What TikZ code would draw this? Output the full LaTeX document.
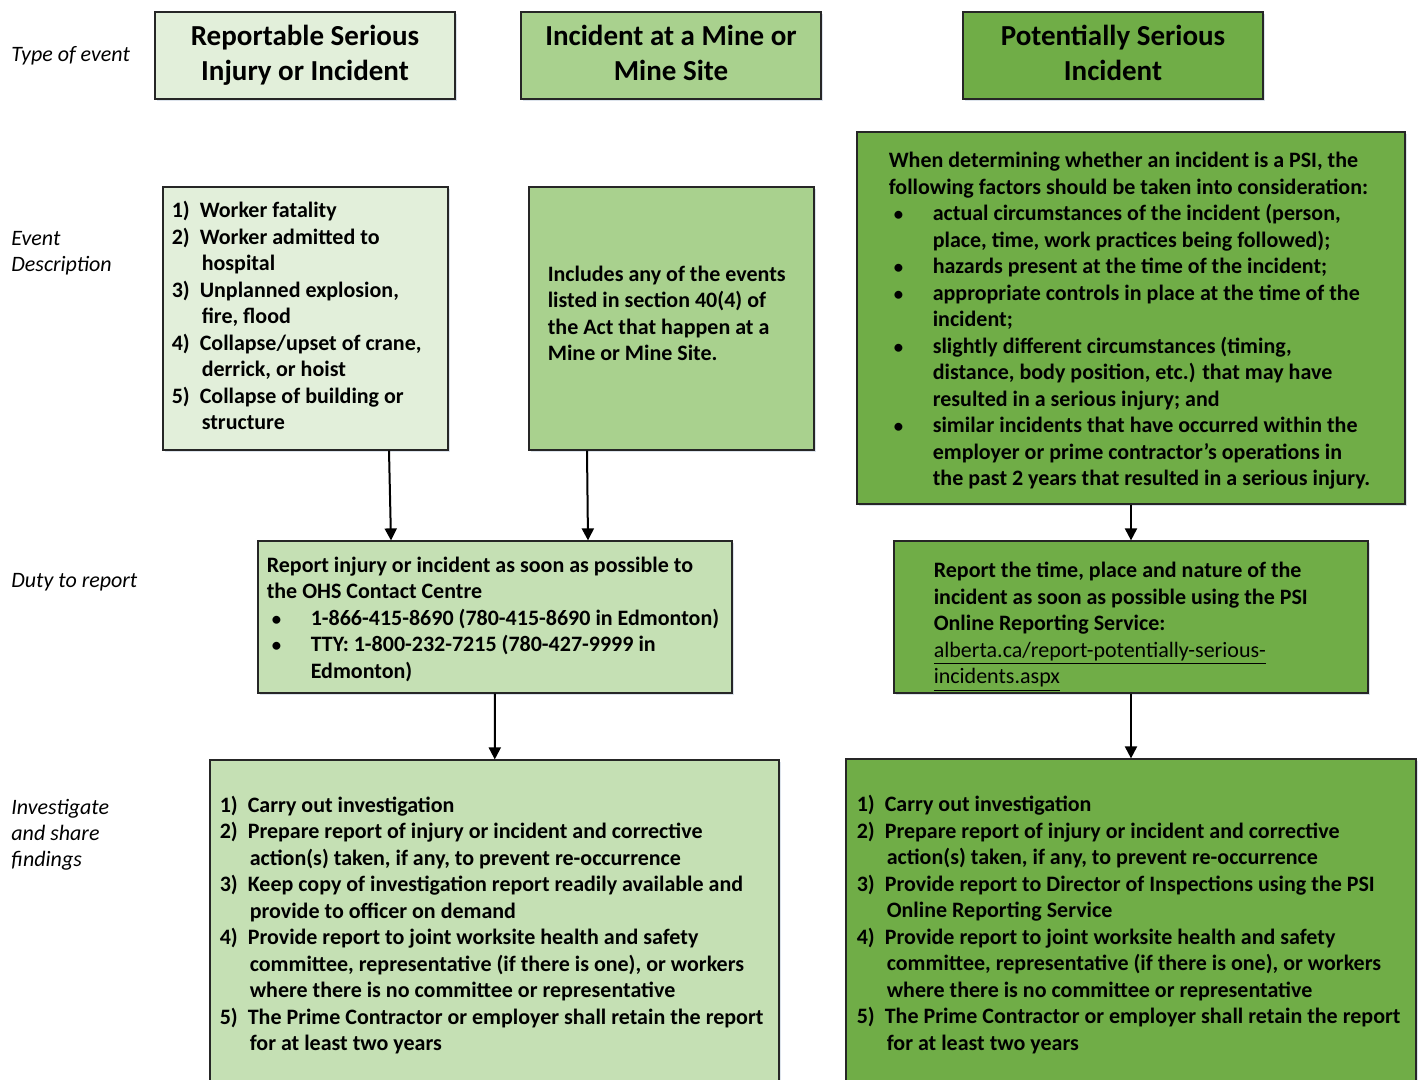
\documentclass[tikz,border=0pt]{standalone}
\usepackage{fontspec}
\setmainfont{Carlito}
\usetikzlibrary{arrows.meta,positioning,shadows}

\definecolor{grnA}{HTML}{E2EFDA}
\definecolor{grnB}{HTML}{A9D18E}
\definecolor{grnC}{HTML}{C5E0B4}
\definecolor{grnD}{HTML}{70AD47}
\definecolor{shade}{HTML}{DCE3EC}

\newcommand{\itemno}[1]{\makebox[14pt][l]{#1}}
\newcommand{\itemcont}{\hspace*{15pt}}
\newcommand{\bulitem}{\makebox[22pt][l]{\hspace*{2.5pt}\scalebox{0.85}{\textbullet}}}
\newcommand{\bulcont}{\hspace*{22pt}}

\begin{document}
\begin{tikzpicture}[x=0.5pt,y=-0.5pt,
  font=\fontsize{11}{13.25}\selectfont,
  box/.style={draw=black!85,line width=0.6pt,inner sep=0pt,
              drop shadow={shadow xshift=1.2pt,shadow yshift=-1.2pt,fill=shade,opacity=1}},
  head/.style={box,align=center,minimum width=150pt,minimum height=43.5pt,
               font=\fontsize{14.5}{17.5}\selectfont\bfseries},
  txt/.style={align=left,inner sep=0pt,font=\fontsize{11}{13.25}\selectfont\bfseries},
  row/.style={anchor=west,align=left,inner sep=0pt,font=\fontsize{11}{13}\selectfont\itshape},
  arr/.style={-{Triangle[length=6pt,width=6pt]},line width=1pt}
]
\useasboundingbox (0,0) rectangle (1421,1080);
\clip (0,0) rectangle (1421,1080);
\fill[white] (0,0) rectangle (1421,1080);

% row labels
\node[row] (lbltype) at (11,56) {Type of event};
\node[row] (lbldesc) at (11,253) {Event\\Description};
\node[row] (lblduty) at (11,582) {Duty to report};
\node[row] (lblinv) at (11,835) {Investigate\\and share\\findings};

% type of event
\node[head,fill=grnA] (t1) at (305,55.5) {Reportable Serious\\Injury or Incident\vphantom{j}};
\node[head,fill=grnB] (t2) at (671,55.5) {Incident at a Mine or\\Mine Site\vphantom{j}};
\node[head,fill=grnD] (t3) at (1113,55.5) {Potentially Serious\\Incident\vphantom{j}};

% event description
\node[box,fill=grnA,minimum width=142.5pt,minimum height=131.5pt] (d1) at (305.5,318.5) {};
\node[txt,right=4.5pt of d1.west,yshift=1.5pt] (d1t) {\itemno{1)}Worker fatality\\
  \itemno{2)}Worker admitted to\\ \itemcont hospital\\
  \itemno{3)}Unplanned explosion,\\ \itemcont fire, flood\\
  \itemno{4)}Collapse/upset of crane,\\ \itemcont derrick, or hoist\\
  \itemno{5)}Collapse of building or\\ \itemcont structure};

\node[box,fill=grnB,minimum width=142.5pt,minimum height=131.5pt] (d2) at (671.5,318.5) {};
\node[txt,right=9.5pt of d2.west,yshift=2.5pt] (d2t) {Includes any of the events\\
  listed in section 40(4) of\\ the Act that happen at a\\ Mine or Mine Site.};

\node[box,fill=grnD,minimum width=274pt,minimum height=186pt] (d3) at (1131,318) {};
\node[txt,right=16pt of d3.west,yshift=-1.5pt] (d3t) {When determining whether an incident is a PSI, the\\
  following factors should be taken into consideration:\\
  \bulitem actual circumstances of the incident (person,\\
  \bulcont place, time, work practices being followed);\\
  \bulitem hazards present at the time of the incident;\\
  \bulitem appropriate controls in place at the time of the\\
  \bulcont incident;\\
  \bulitem slightly different circumstances (timing,\\
  \bulcont distance, body position, etc.) that may have\\
  \bulcont resulted in a serious injury; and\\
  \bulitem similar incidents that have occurred within the\\
  \bulcont employer or prime contractor's operations in\\
  \bulcont the past 2 years that resulted in a serious injury.};

% duty to report
\node[box,fill=grnC,minimum width=237pt,minimum height=76pt] (r1) at (495,617) {};
\node[txt,right=4.5pt of r1.west,yshift=-1pt] (r1t) {Report injury or incident as soon as possible to\\
  the OHS Contact Centre\\
  \bulitem 1-866-415-8690 (780-415-8690 in Edmonton)\\
  \bulitem TTY: 1-800-232-7215 (780-427-9999 in\\
  \bulcont Edmonton)};

\node[box,fill=grnD,minimum width=237pt,minimum height=76pt] (r2) at (1131,617) {};
\node[txt,right=20pt of r2.west,yshift=-5pt] (r2t) {Report the time, place and nature of the\\
  incident as soon as possible using the PSI\\
  Online Reporting Service:\\
  {\mdseries\underline{alberta.ca/report-potentially-serious-}}\\
  {\mdseries\underline{incidents.aspx}}};

% investigate and share findings
\node[box,fill=grnC,minimum width=284.5pt,minimum height=165pt] (i1) at (494.5,925) {};
\node[txt,right=5pt of i1.west] (i1t) {\itemno{1)}Carry out investigation\\
  \itemno{2)}Prepare report of injury or incident and corrective\\
  \itemcont action(s) taken, if any, to prevent re-occurrence\\
  \itemno{3)}Keep copy of investigation report readily available and\\
  \itemcont provide to officer on demand\\
  \itemno{4)}Provide report to joint worksite health and safety\\
  \itemcont committee, representative (if there is one), or workers\\
  \itemcont where there is no committee or representative\\
  \itemno{5)}The Prime Contractor or employer shall retain the report\\
  \itemcont for at least two years};

\node[box,fill=grnD,minimum width=285pt,minimum height=165.5pt] (i2) at (1131,924.5) {};
\node[txt,right=5.5pt of i2.west] (i2t) {\itemno{1)}Carry out investigation\\
  \itemno{2)}Prepare report of injury or incident and corrective\\
  \itemcont action(s) taken, if any, to prevent re-occurrence\\
  \itemno{3)}Provide report to Director of Inspections using the PSI\\
  \itemcont Online Reporting Service\\
  \itemno{4)}Provide report to joint worksite health and safety\\
  \itemcont committee, representative (if there is one), or workers\\
  \itemcont where there is no committee or representative\\
  \itemno{5)}The Prime Contractor or employer shall retain the report\\
  \itemcont for at least two years};

\draw[arr] ([xshift=41.75pt]d1.south) -- ([xshift=-52pt]r1.north);
\draw[arr] ([xshift=-42.25pt]d2.south) -- ([xshift=46.5pt]r1.north);
\draw[arr] (d3) -- (r2);
\draw[arr] (r1) -- (i1);
\draw[arr] (r2) -- (i2);
\end{tikzpicture}
\end{document}
